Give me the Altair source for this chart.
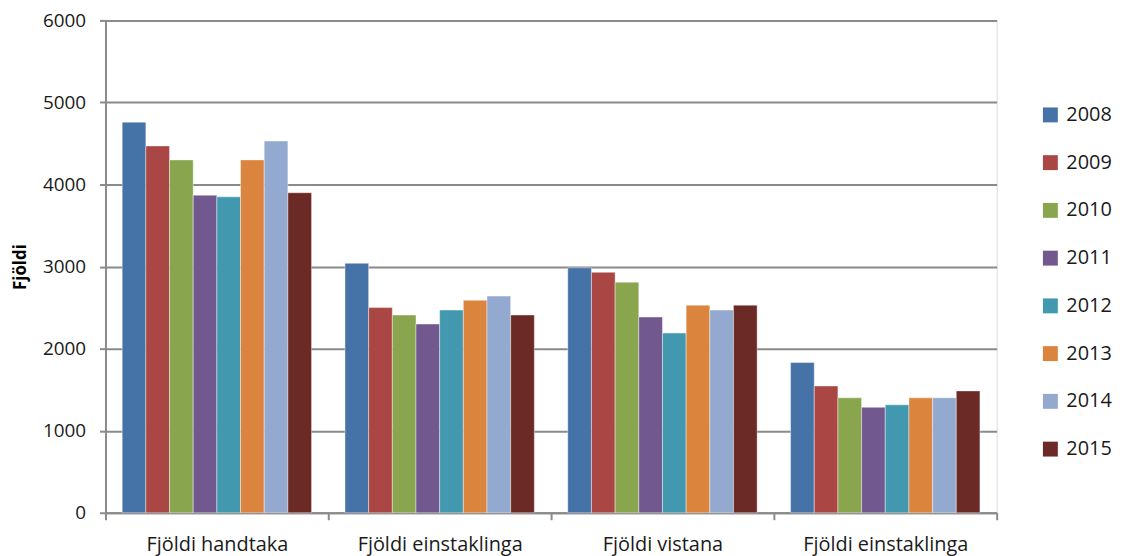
import altair as alt
import pandas as pd

categories = ["Fjöldi handtaka", "Fjöldi einstaklinga", "Fjöldi vistana", "Fjöldi einstaklinga"]
years = ["2008", "2009", "2010", "2011", "2012", "2013", "2014", "2015"]
colors = ["#4572A7", "#AA4643", "#89A54E", "#71588F", "#4198AF", "#DB843D", "#93A9CF", "#6B2A26"]

v_handtaka = [4760, 4470, 4300, 3870, 3850, 4300, 4530, 3900]
v_einst1 = [3040, 2500, 2410, 2300, 2470, 2590, 2640, 2410]
v_vistana = [2985, 2930, 2810, 2385, 2190, 2530, 2470, 2530]
v_einst2 = [1830, 1545, 1400, 1285, 1315, 1400, 1400, 1485]

series = [v_handtaka, v_einst1, v_vistana, v_einst2]
keys = [f"c{i}" for i in range(len(categories))]

rows = []
for k, vals in zip(keys, series):
    for y, v in zip(years, vals):
        rows.append({"key": k, "year": y, "value": v})
df = pd.DataFrame(rows)

label_map = "{" + ",".join(f"'{k}':'{c}'" for k, c in zip(keys, categories)) + "}"

FONT = "Open Sans"
W, H = 896, 495
GRID = "#8a8a8a"

bars = alt.Chart(df).mark_bar(stroke="white", strokeWidth=0.6, strokeOpacity=0.7).encode(
    x=alt.X("key:N", sort=keys,
            scale=alt.Scale(paddingInner=0, paddingOuter=0),
            axis=alt.Axis(title=None, labelExpr=f"{label_map}[datum.value]", labelAngle=0,
                          tickBand="extent", tickSize=7, tickColor=GRID, tickWidth=2,
                          domainColor=GRID, domainWidth=2, labelPadding=15,
                          labelFontSize=20, labelColor="#1a1a1a", labelFont=FONT)),
    xOffset=alt.XOffset("year:N", sort=years,
                        scale=alt.Scale(paddingInner=0, paddingOuter=0.706)),
    y=alt.Y("value:Q",
            scale=alt.Scale(domain=[0, 6000], nice=False),
            axis=alt.Axis(title="Fjöldi", values=[0, 1000, 2000, 3000, 4000, 5000, 6000], format="d",
                          grid=True, gridColor=GRID, gridWidth=2,
                          tickSize=6, tickColor=GRID, tickWidth=2,
                          domainColor=GRID, domainWidth=2,
                          labelPadding=14, labelFontSize=19, labelColor="#1a1a1a", labelFont=FONT,
                          titleFont=FONT, titleFontSize=17, titleFontWeight="bold", titleColor="#000000",
                          titleX=-85, titleY=H / 2, titleBaseline="middle", titleAlign="center")),
    color=alt.Color("year:N", sort=years,
                    scale=alt.Scale(domain=years, range=colors),
                    legend=alt.Legend(title=None, orient="none", legendX=940, legendY=85,
                                      symbolType="square", symbolSize=225, symbolStrokeWidth=0,
                                      labelFontSize=20, labelFont=FONT, labelColor="#1a1a1a",
                                      rowPadding=28, labelOffset=6)),
)

chart = bars.properties(
    width=W, height=H,
    autosize=alt.AutoSizeParams(type="none"),
    padding={"left": 98, "top": 11, "right": 123, "bottom": 42},
).configure_view(stroke=None).configure(background="white")

chart.save("out.html", embed_options={"renderer": "svg", "actions": False})
